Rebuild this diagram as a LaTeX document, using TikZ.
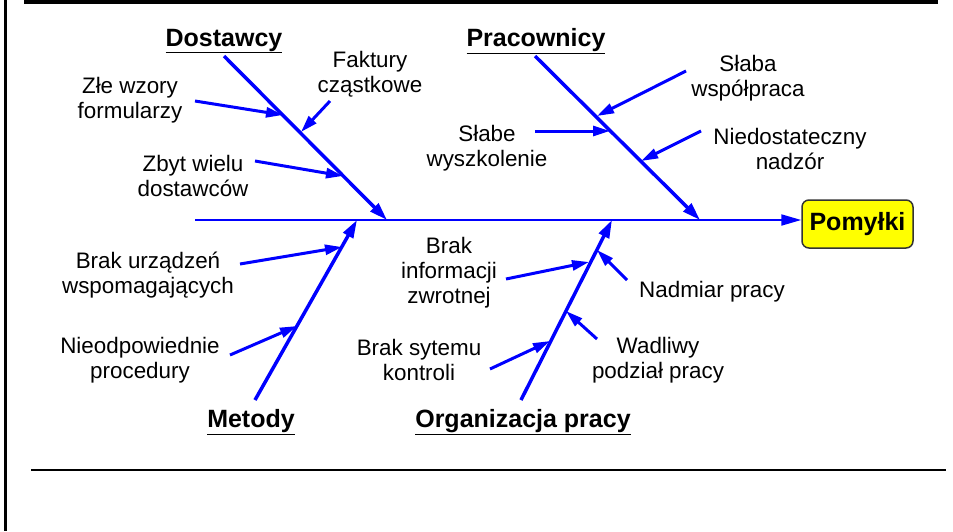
\documentclass[tikz,border=0pt]{standalone}
\usepackage{fontspec}
\setmainfont{Liberation Sans}
\usetikzlibrary{arrows.meta}
\definecolor{bblue}{RGB}{0,0,255}
\definecolor{byellow}{RGB}{255,255,0}
\begin{document}
\begin{tikzpicture}[x=1pt,y=-1pt,
  lbl/.style={align=center,inner sep=0pt,font=\fontsize{22.4}{25}\selectfont},
  cat/.style={inner sep=0pt,font=\fontsize{25}{28}\selectfont\bfseries},
  bone/.style={draw=bblue,line width=3.5pt,-{Triangle[length=18pt,width=11pt]}},
  twig/.style={draw=bblue,line width=3pt,-{Triangle[length=17pt,width=10pt]}},
  spine/.style={draw=bblue,line width=2pt,-{Triangle[length=20pt,width=11pt]}},
  frame/.style={draw=black,line width=3pt}]
\useasboundingbox (0,0) rectangle (953,531);
% frame
\coordinate (fL1) at (5,0); \coordinate (fL2) at (5,531);
\coordinate (fT1) at (24,2); \coordinate (fT2) at (938,2);
\coordinate (fB1) at (31,470); \coordinate (fB2) at (946,470);
\draw[frame] (fL1) -- (fL2);
\draw[frame,line width=4pt] (fT1) -- (fT2);
\draw[frame,line width=2.5pt] (fB1) -- (fB2);
% effect
\node[draw=black!80,line width=1.5pt,fill=byellow,rounded corners=7pt,minimum width=111pt,minimum height=48pt,inner sep=0pt,font=\fontsize{25}{28}\selectfont\bfseries] (eff) at (857.5,224) {Pomyłki};
% spine
\coordinate (s0) at (195,220);
\draw[spine] (s0) -- (s0 -| eff.west);
% category labels
\node[cat] (cD) at (224,41) {\underline{Dostawcy}};
\node[cat] (cP) at (536,41) {\underline{Pracownicy}};
\node[cat] (cM) at (251,422) {\underline{Metody}};
\node[cat] (cO) at (523,422) {\underline{Organizacja pracy}};
% bones
\coordinate (D0) at (224,56); \coordinate (D1) at (387,220);
\coordinate (P0) at (535,56); \coordinate (P1) at (700,220);
\coordinate (M0) at (255,400); \coordinate (M1) at (357,220);
\coordinate (O0) at (521,400); \coordinate (O1) at (612,220);
\draw[bone] (D0) -- (D1);
\draw[bone] (P0) -- (P1);
\draw[bone] (M0) -- (M1);
\draw[bone] (O0) -- (O1);
% cause labels
\node[lbl] (t1) at (130,100) {Złe wzory\\formularzy};
\node[lbl] (t2) at (370,74) {Faktury\\cząstkowe};
\node[lbl] (t3) at (193,176) {Zbyt wielu\\dostawców};
\node[lbl] (t4) at (748,78) {Słaba\\współpraca};
\node[lbl] (t5) at (487,148) {Słabe\\wyszkolenie};
\node[lbl] (t6) at (790,149) {Niedostateczny\\nadzór};
\node[lbl] (t7) at (148,275) {Brak urządzeń\\wspomagających};
\node[lbl] (t8) at (140,360) {Nieodpowiednie\\procedury};
\node[lbl] (t9) at (449,273) {Brak\\informacji\\zwrotnej};
\node[lbl] (t10) at (712,292) {Nadmiar pracy};
\node[lbl] (t11) at (419,360) {Brak sytemu\\kontroli};
\node[lbl] (t12) at (658,360) {Wadliwy\\podział pracy};
% twig coordinates
\coordinate (a1) at (195,101); \coordinate (b1) at (283,115);
\coordinate (a2) at (330,101); \coordinate (b2) at (301,132);
\coordinate (a3) at (255,161); \coordinate (b3) at (343,176);
\coordinate (a4) at (686,71);  \coordinate (b4) at (597,116);
\coordinate (a5) at (535,131); \coordinate (b5) at (610,131);
\coordinate (a6) at (701,131); \coordinate (b6) at (641,161);
\coordinate (a7) at (240,264); \coordinate (b7) at (342,247);
\coordinate (a8) at (230,355); \coordinate (b8) at (297,326);
\coordinate (a9) at (506,279); \coordinate (b9) at (589,262);
\coordinate (a10) at (627,280); \coordinate (b10) at (597,250);
\coordinate (a11) at (490,369); \coordinate (b11) at (550,341);
\coordinate (a12) at (597,339); \coordinate (b12) at (566,311);
\foreach \i in {1,...,12} {\draw[twig] (a\i) -- (b\i);}
\end{tikzpicture}
\end{document}
